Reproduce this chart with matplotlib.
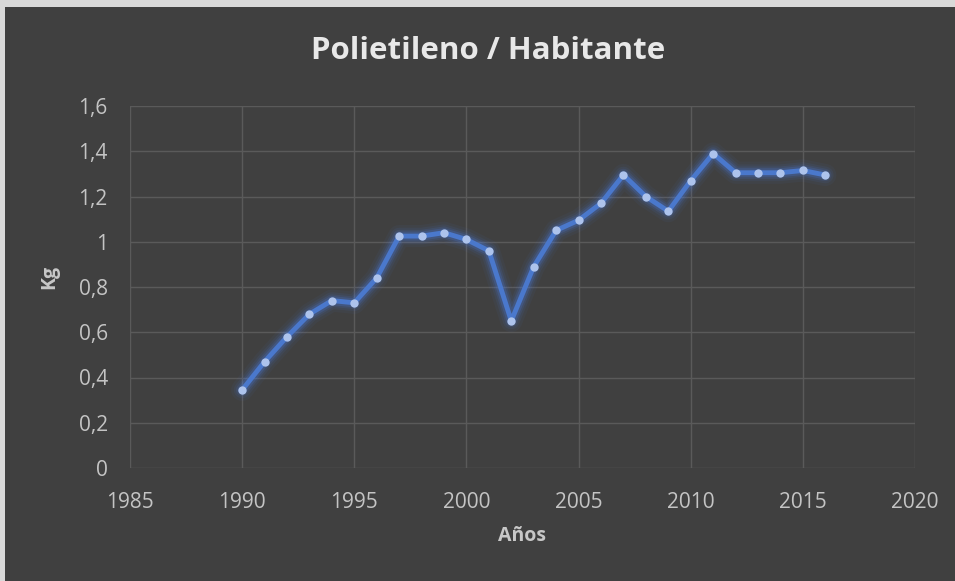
import matplotlib
matplotlib.use('Agg')
import matplotlib.pyplot as plt
from matplotlib.patches import Rectangle
from matplotlib.ticker import FuncFormatter

anios = list(range(1990, 2017))
kg = [0.345, 0.47, 0.58, 0.68, 0.74, 0.73, 0.84, 1.025, 1.025, 1.04,
      1.01, 0.96, 0.65, 0.89, 1.05, 1.095, 1.17, 1.295, 1.20, 1.135,
      1.27, 1.39, 1.305, 1.305, 1.305, 1.315, 1.295]

plt.rcParams['font.family'] = ['Open Sans', 'DejaVu Sans']

fondo = '#404040'
fig = plt.figure(figsize=(9.55, 5.81), dpi=100)
fig.patch.set_facecolor('#d9d9d9')
fig.patches.append(Rectangle((5 / 955, 0), 1, 1 - 7 / 581, transform=fig.transFigure,
                             facecolor=fondo, edgecolor='none', zorder=-5))

ax = fig.add_axes([130 / 955, (581 - 468) / 581, 785 / 955, 362 / 581])
ax.set_facecolor(fondo)

# brillo alrededor de la línea
for lw, a in [(16, 0.05), (12, 0.08), (9, 0.12), (6.5, 0.2)]:
    ax.plot(anios, kg, color='#4a7fe8', lw=lw, alpha=a, solid_capstyle='round',
            solid_joinstyle='round', zorder=3)
ax.plot(anios, kg, color='#4a78cc', lw=3.5, zorder=4, solid_joinstyle='round')
ax.plot(anios, kg, ls='none', marker='o', ms=6, mfc='#adc3ec', mec='none', zorder=5)

ax.set_xlim(1985, 2020)
ax.set_ylim(0, 1.6)
ax.set_xticks(range(1985, 2021, 5))
ax.set_yticks([i / 5 for i in range(9)])
ax.yaxis.set_major_formatter(FuncFormatter(lambda v, p: ('%g' % round(v, 1)).replace('.', ',')))
ax.grid(True, color='#5a5a5a', lw=1)
ax.set_axisbelow(True)
for s in ax.spines.values():
    s.set_visible(False)
ax.tick_params(length=0, colors='#c4c4c4', labelsize=15)
ax.tick_params(axis='y', pad=16)
ax.tick_params(axis='x', pad=17)

fig.text(488 / 955, 1 - 51 / 581, 'Polietileno / Habitante', ha='center', va='center',
         fontsize=22.5, fontweight='bold', color='#e8e8e8')
fig.text(49 / 955, 1 - 277 / 581, 'Kg', ha='center', va='center', rotation=90,
         fontsize=14, fontweight='bold', color='#c8c8c8')
fig.text(522 / 955, 1 - 536 / 581, 'Años', ha='center', va='center',
         fontsize=14, fontweight='bold', color='#c8c8c8')

fig.savefig('out.png', dpi=100, facecolor=fig.get_facecolor())
